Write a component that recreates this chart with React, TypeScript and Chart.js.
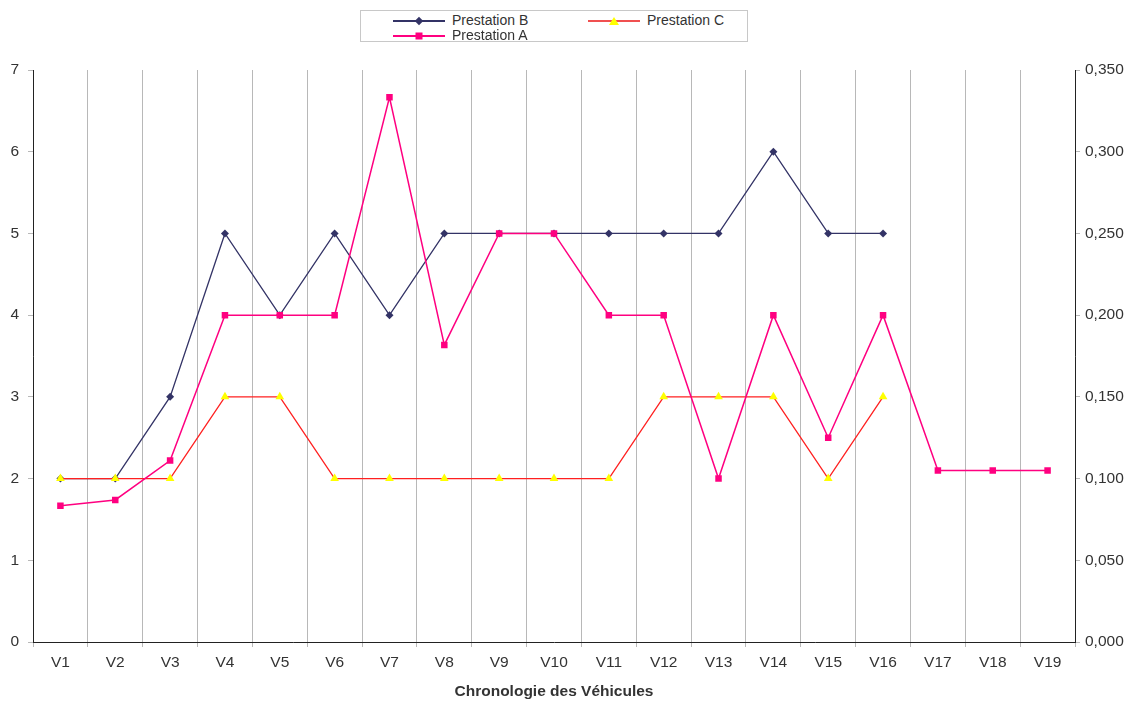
import React, { useEffect, useRef } from "react";
import { Chart, registerables } from "chart.js";

Chart.register(...registerables);

const categories = ["V1","V2","V3","V4","V5","V6","V7","V8","V9","V10","V11","V12","V13","V14","V15","V16","V17","V18","V19"];
const prestationB = [2, 2, 3, 5, 4, 5, 4, 5, 5, 5, 5, 5, 5, 6, 5, 5, null, null, null];
const prestationC = [2, 2, 2, 3, 3, 2, 2, 2, 2, 2, 2, 3, 3, 3, 2, 3, null, null, null];
const prestationA = [0.0833, 0.0869, 0.111, 0.2, 0.2, 0.2, 0.3333, 0.1818, 0.25, 0.25, 0.2, 0.2, 0.1, 0.2, 0.125, 0.2, 0.105, 0.105, 0.105];

const COLOR_B = "#333366";
const COLOR_C = "#FF2020";
const COLOR_C_MARK = "#FFFF00";
const COLOR_A = "#FF0080";
const FONT = "'Liberation Sans', Arial, sans-serif";
const TICK_SIZE = 15.5;

export default function App() {
  const ref = useRef<HTMLCanvasElement | null>(null);
  useEffect(() => {
    if (!ref.current) return;
    const chart = new Chart(ref.current, {
      type: "line",
      data: {
        labels: categories,
        datasets: [
          {
            label: "Prestation A",
            data: prestationA,
            yAxisID: "y1",
            borderColor: COLOR_A,
            backgroundColor: COLOR_A,
            borderWidth: 1.5,
            pointStyle: "rect",
            pointRadius: 4.6,
            pointBorderWidth: 0,
            order: 0,
          },
          {
            label: "Prestation C",
            data: prestationC,
            yAxisID: "y",
            borderColor: COLOR_C,
            backgroundColor: COLOR_C_MARK,
            pointBorderColor: COLOR_C_MARK,
            borderWidth: 1.3,
            pointStyle: "triangle",
            pointRadius: 5,
            pointBorderWidth: 0,
            order: 1,
          },
          {
            label: "Prestation B",
            data: prestationB,
            yAxisID: "y",
            borderColor: COLOR_B,
            backgroundColor: COLOR_B,
            borderWidth: 1.3,
            pointStyle: "rectRot",
            pointRadius: 4,
            pointBorderWidth: 0,
            order: 2,
          },
        ],
      },
      options: {
        animation: false,
        responsive: true,
        maintainAspectRatio: false,
        layout: { padding: { top: 70, left: 0, right: 0, bottom: 0 } },
        plugins: { legend: { display: false }, tooltip: { enabled: false } },
        scales: {
          x: {
            offset: true,
            grid: { offset: true, color: "#b8b8b8", lineWidth: 1, tickLength: 5, drawOnChartArea: true },
            border: { color: "#222", width: 1 },
            ticks: { color: "#333", font: { family: FONT, size: TICK_SIZE }, padding: 6, maxRotation: 0, autoSkip: false },
            title: {
              display: true,
              text: "Chronologie des Véhicules",
              color: "#333",
              font: { family: FONT, size: TICK_SIZE, weight: "bold" },
              padding: { top: 0, bottom: 1 },
            },
            afterFit: (s: any) => { s.height = 60; },
          },
          y: {
            position: "left",
            min: 0,
            max: 7,
            ticks: { stepSize: 1, color: "#333", font: { family: FONT, size: TICK_SIZE }, padding: 9 },
            grid: { drawOnChartArea: false, drawTicks: true, tickLength: 5, color: "#b8b8b8" },
            border: { color: "#222", width: 1 },
            afterFit: (s: any) => { s.width = 33; },
          },
          y1: {
            position: "right",
            min: 0,
            max: 0.35,
            ticks: {
              stepSize: 0.05,
              color: "#333",
              font: { family: FONT, size: TICK_SIZE },
              padding: 5,
              callback: (v: any) => Number(v).toFixed(3).replace(".", ","),
            },
            grid: { drawOnChartArea: false, drawTicks: true, tickLength: 5, color: "#b8b8b8" },
            border: { color: "#222", width: 1 },
            afterFit: (s: any) => { s.width = 59; },
          },
        },
      },
    });
    return () => chart.destroy();
  }, []);

  const lineSample = (color: string, marker: React.ReactNode) => (
    <span style={{ position: "relative", display: "inline-block", width: 52, height: 12, marginRight: 7 }}>
      <span style={{ position: "absolute", left: 0, right: 0, top: 5, height: 2, background: color }} />
      <span style={{ position: "absolute", left: 26, top: 6, transform: "translate(-50%,-50%)", lineHeight: 0 }}>{marker}</span>
    </span>
  );

  const textStyle: React.CSSProperties = { fontFamily: FONT, fontSize: 14, color: "#333", lineHeight: "15px" };

  return (
    <div style={{ position: "absolute", left: 0, top: 0, width: 1134, height: 702, background: "#fff" }}>
      <canvas ref={ref} />
      <div
        style={{
          position: "absolute",
          left: 360,
          top: 10,
          width: 386,
          height: 30,
          border: "1px solid #c8c8c8",
          background: "#fff",
        }}
      >
        <div style={{ position: "absolute", left: 32, top: 2, display: "flex", alignItems: "center", ...textStyle }}>
          {lineSample(COLOR_B, <span style={{ display: "inline-block", width: 6, height: 6, background: COLOR_B, transform: "rotate(45deg)" }} />)}
          <span>Prestation B</span>
        </div>
        <div style={{ position: "absolute", left: 227, top: 2, display: "flex", alignItems: "center", ...textStyle }}>
          {lineSample("#F05050", <span style={{ display: "inline-block", width: 0, height: 0, borderLeft: "5px solid transparent", borderRight: "5px solid transparent", borderBottom: "8px solid " + COLOR_C_MARK }} />)}
          <span>Prestation C</span>
        </div>
        <div style={{ position: "absolute", left: 32, top: 17, display: "flex", alignItems: "center", ...textStyle }}>
          {lineSample(COLOR_A, <span style={{ display: "inline-block", width: 7, height: 7, background: COLOR_A }} />)}
          <span>Prestation A</span>
        </div>
      </div>
    </div>
  );
}
